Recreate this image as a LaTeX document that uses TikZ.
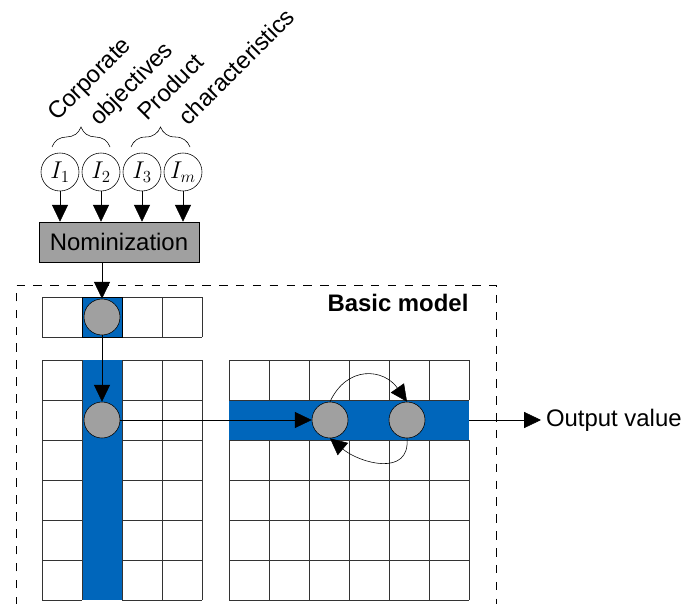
\documentclass[tikz,border=0pt]{standalone}
\usepackage{fontspec}
\setmainfont{Liberation Sans}
\usepackage{tikz}
\usetikzlibrary{arrows.meta,decorations.pathreplacing}
\definecolor{bandblue}{RGB}{0,102,187}
\definecolor{ballgray}{RGB}{160,160,160}
\tikzset{
	inputnode/.style={circle,draw=black,fill=white,minimum size=0.95cm,inner sep=0pt,font=\fontsize{17}{20}\selectfont},
	ball/.style={circle,draw=black,fill=ballgray,minimum size=0.9cm,inner sep=0pt},
	gridline/.style={draw=black!80,line width=0.7pt},
	label/.style={font=\fontsize{17}{20}\selectfont,inner sep=0pt},
}

\begin{document}
\begin{tikzpicture}[x=0.025cm,y=-0.025cm,>={Triangle[length=0.42cm,width=0.4cm]}]
		%%%%% START %%%%%
		\useasboundingbox (0,0) rectangle (681,603);
		
		\node[label,rotate=45,anchor=base west] (corp) at (57,122) {Corporate};
		\node[label,rotate=45,anchor=base west] (obj) at (99,127) {objectives};
		\node[label,rotate=45,anchor=base west] (prod) at (147,122) {Product};
		\node[label,rotate=45,anchor=base west] (char) at (188,127) {characteristics};
		
		\draw[decorate,decoration={brace,amplitude=0.5cm}] (52,147) -- (110,147);
		\draw[decorate,decoration={brace,amplitude=0.5cm}] (131,147) -- (190,147);
		
		\node[inputnode] (i1) at (60,172) {$I_1$};
		\node[inputnode] (i2) at (101,172) {$I_2$};
		\node[inputnode] (i3) at (142,172) {$I_3$};
		\node[inputnode] (im) at (183,172) {$I_m$};
		
		\node[label,draw=black,fill=ballgray,minimum width=4cm,minimum height=1cm] (nom) at (119,242) {Nominization};
		\foreach \i in {i1,i2,i3,im}
			\draw[->] (\i) -- (\i |- nom.north);
		
		% dashed frame
		\draw[dash pattern=on 6pt off 6pt,line width=0.7pt] (16,605) -- (16,285) -- (496,285) -- (496,605);
		\node[label,font=\fontsize{17}{20}\selectfont\bfseries] (basic) at (398,303) {Basic model};
		
		% weight vector
		\fill[bandblue] (82,297) rectangle (122,337);
		\foreach \x in {42,82,...,202}
			\draw[gridline] (\x,297) -- (\x,337);
		\foreach \y in {297,337}
			\draw[gridline] (42,\y) -- (202,\y);
		\draw[black] (82,297) rectangle (122,337);
		\node[ball] (topball) at (102,317) {};
		
		% left matrix
		\fill[bandblue] (82,360) rectangle (122,600);
		\foreach \x in {42,82,...,202}
			\draw[gridline] (\x,360) -- (\x,600);
		\foreach \y in {360,400,...,600}
			\draw[gridline] (42,\y) -- (82,\y) (122,\y) -- (202,\y);
		\node[ball] (leftball) at (102,420) {};
		
		% right matrix
		\fill[bandblue] (229,400) rectangle (469,440);
		\foreach \x in {229,269,...,469}
			\draw[gridline] (\x,360) -- (\x,400) (\x,440) -- (\x,600);
		\foreach \y in {360,400,...,600}
			\draw[gridline] (229,\y) -- (469,\y);
		\node[ball] (ra) at (330,420) {};
		\node[ball] (rb) at (407,420) {};
		\coordinate (rgeast) at (469,420);
		
		\node[label,anchor=west,inner sep=0.12cm] (out) at (541,420) {Output value};
		
		\draw[->] (topball |- nom.south) -- (topball.north);
		\draw[->] (topball.south) -- (leftball.north);
		\draw[->] (leftball.east) -- (ra.west);
		\draw[->] (ra.north) to[out=65,in=125,looseness=1.35] (rb.north);
		\draw[->] (rb.south) to[out=-85,in=-40,looseness=1.3] (ra.south);
		\draw[->] (rgeast) -- (out.west);
		%%%%% END %%%%%
	\end{tikzpicture}
\end{document}
